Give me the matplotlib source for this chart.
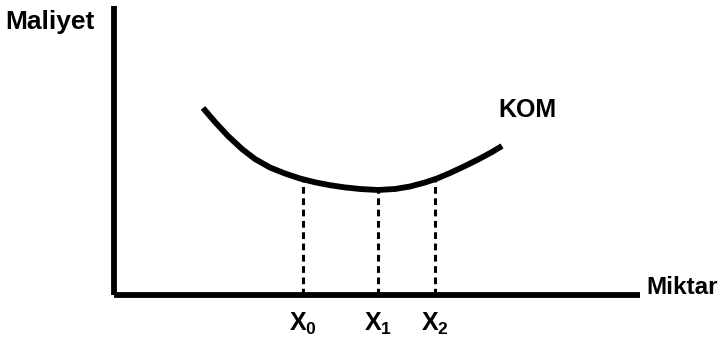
import matplotlib
matplotlib.use("Agg")
import matplotlib.pyplot as plt

plt.rcParams['font.family'] = ['Liberation Sans', 'DejaVu Sans']
plt.rcParams['mathtext.fontset'] = 'custom'
plt.rcParams['mathtext.rm'] = 'Liberation Sans:bold'
plt.rcParams['mathtext.it'] = 'Liberation Sans:bold'
plt.rcParams['mathtext.bf'] = 'Liberation Sans:bold'

# KOM (average cost) curve
quantity = [89, 101, 114, 128, 141, 156, 171, 186, 201, 216, 231, 246,
            264, 281, 296, 311, 323, 336, 351, 366, 378, 388]
cost = [187, 173, 159, 146, 136, 127.5, 121.5, 116.5, 112.7, 109.8, 107.6,
        106, 105, 106, 108.5, 112.5, 116.5, 122, 129, 136.5, 143, 149]

# marked quantities and cost on the curve there
marked_q = [189, 264, 321]
marked_cost = [116, 105, 116]
marked_labels = ['X$_0$', 'X$_1$', 'X$_2$']

W, H = 725, 342
fig = plt.figure(figsize=(W / 100, H / 100), dpi=100)
ox, oy = 114, 295
ax = fig.add_axes([ox / W, 1 - oy / H, (640 - ox) / W, (oy - 6) / H])
ax.set_xlim(0, 640 - ox)
ax.set_ylim(0, oy - 6)

for s in ['top', 'right']:
    ax.spines[s].set_visible(False)
for s in ['left', 'bottom']:
    ax.spines[s].set_linewidth(4.2)
    ax.spines[s].set_color('black')
    ax.spines[s].set_capstyle('butt')
ax.set_xticks([])
ax.set_yticks([])

ax.plot(quantity, cost, color='black', lw=4.2, solid_capstyle='butt',
        solid_joinstyle='round', clip_on=False)

for q, c, lab in zip(marked_q, marked_cost, marked_labels):
    ax.plot([q, q], [0, c], color='black', lw=2.2, linestyle=(0, (2.2, 1.5)))
    ax.text(q, -29, lab, ha='center', va='center', fontsize=18,
            fontweight='bold', clip_on=False)

ax.text(-109, 273, 'Maliyet', ha='left', va='center', fontsize=19,
        fontweight='bold', clip_on=False)
ax.text(532, 7, 'Miktar', ha='left', va='center', fontsize=17.5,
        fontweight='bold', clip_on=False)
ax.text(413, 185, 'KOM', ha='center', va='center', fontsize=18,
        fontweight='bold', clip_on=False)

fig.savefig('out.png', dpi=100)
